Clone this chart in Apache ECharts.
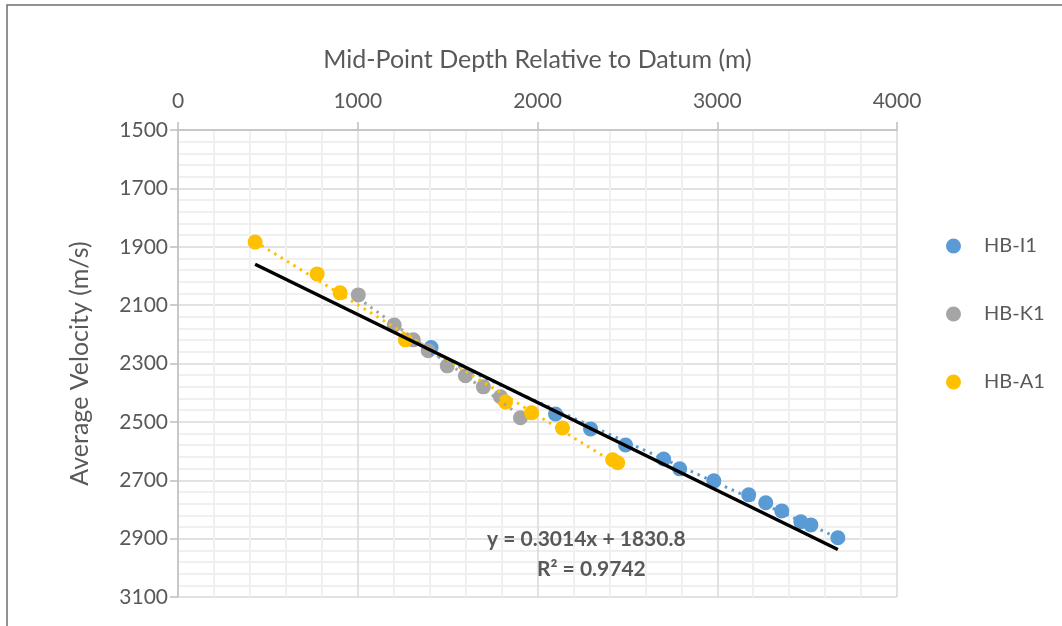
<!DOCTYPE html>
<html>
<head>
<meta charset="utf-8">
<script src="https://cdn.jsdelivr.net/npm/echarts@6/dist/echarts.min.js"></script>
<style>
  html, body { margin: 0; padding: 0; background: #fff; }
  #main { width: 1062px; height: 626px; }
</style>
</head>
<body>
<div id="main"></div>
<script>
// 数据：各井的中点深度 (m) 与平均速度 (m/s)
var seriesNames = ['HB-I1', 'HB-K1', 'HB-A1']
var i1Depth = [1408, 2100, 2295, 2490, 2702, 2791, 2981, 3175, 3270, 3359, 3465, 3521, 3671]
var i1Velocity = [2245, 2473, 2524, 2579, 2627, 2661, 2702, 2750, 2777, 2805, 2842, 2853, 2897]
var k1Depth = [1003, 1203, 1309, 1392, 1498, 1599, 1699, 1794, 1905]
var k1Velocity = [2065, 2168, 2219, 2256, 2308, 2342, 2380, 2414, 2486]
var a1Depth = [429, 774, 902, 1265, 1822, 1967, 2139, 2418, 2446]
var a1Velocity = [1884, 1993, 2058, 2219, 2432, 2469, 2521, 2630, 2640]
var xTicks = [0, 1000, 2000, 3000, 4000]
var yTicks = [1500, 1700, 1900, 2100, 2300, 2500, 2700, 2900, 3100]
// 总体趋势线 (图上给出的方程)
var fitSlope = 0.3014
var fitIntercept = 1830.8
var fitR2 = 0.9742

var colors = ['#5B9BD5', '#A5A5A5', '#FFC000']
var textColor = '#595959'
var font = 'Lato, "Open Sans", sans-serif'

function pairs(xs, ys) {
  return xs.map(function (x, i) { return [x, ys[i]] })
}
// 最小二乘线性趋势线，跨越该系列的深度范围
function trend(xs, ys) {
  var n = xs.length, sx = 0, sy = 0, sxx = 0, sxy = 0
  for (var i = 0; i < n; i++) {
    sx += xs[i]; sy += ys[i]; sxx += xs[i] * xs[i]; sxy += xs[i] * ys[i]
  }
  var b = (n * sxy - sx * sy) / (n * sxx - sx * sx)
  var a = (sy - b * sx) / n
  var x0 = Math.min.apply(null, xs), x1 = Math.max.apply(null, xs)
  return [[x0, a + b * x0], [x1, a + b * x1]]
}

var allDepth = i1Depth.concat(k1Depth, a1Depth)
var dMin = Math.min.apply(null, allDepth)
var dMax = Math.max.apply(null, allDepth)

var scatterData = [pairs(i1Depth, i1Velocity), pairs(k1Depth, k1Velocity), pairs(a1Depth, a1Velocity)]
var trendData = [trend(i1Depth, i1Velocity), trend(k1Depth, k1Velocity), trend(a1Depth, a1Velocity)]

var series = []
scatterData.forEach(function (d, i) {
  series.push({
    name: seriesNames[i],
    type: 'scatter',
    data: d,
    symbolSize: 15,
    itemStyle: { color: colors[i], opacity: 1 },
    z: 2 + i,
  })
})
trendData.forEach(function (d, i) {
  series.push({
    name: seriesNames[i] + ' trend',
    type: 'line',
    data: d,
    showSymbol: false,
    silent: true,
    lineStyle: { color: colors[i], width: 3, type: [2.5, 5] },
    z: 6,
  })
})
series.push({
  name: 'all trend',
  type: 'line',
  data: [[dMin, fitIntercept + fitSlope * dMin], [dMax, fitIntercept + fitSlope * dMax]],
  showSymbol: false,
  silent: true,
  lineStyle: { color: '#000', width: 3.5 },
  z: 8,
})

var myChart = echarts.init(document.getElementById('main'))
var option = {
  animation: false,
  backgroundColor: '#fff',
  textStyle: { fontFamily: font },
  grid: { left: 178, top: 130, right: 165, bottom: 29 },
  legend: {
    data: seriesNames,
    orient: 'vertical',
    left: 941,
    top: 231,
    icon: 'circle',
    itemWidth: 15,
    itemHeight: 15,
    itemGap: 48,
    textStyle: { color: textColor, fontSize: 20, fontFamily: font, padding: [0, 0, 0, 18] },
  },
  xAxis: {
    type: 'value',
    position: 'top',
    min: 0,
    max: 4000,
    interval: 1000,
    name: 'Mid-Point Depth Relative to Datum (m)',
    nameLocation: 'middle',
    nameGap: 58,
    nameTextStyle: { color: textColor, fontSize: 25, fontFamily: font },
    axisLine: { show: true, lineStyle: { color: '#BFBFBF', width: 1.5 } },
    axisTick: { show: true, length: 8, lineStyle: { color: '#BFBFBF', width: 1.5 } },
    axisLabel: {
      color: textColor, fontSize: 21, margin: 18,
      formatter: function (v) { return xTicks.indexOf(v) >= 0 ? String(v) : '' },
    },
    splitLine: { show: true, lineStyle: { color: '#D9D9D9', width: 1.5 } },
    minorTick: { show: false, splitNumber: 5 },
    minorSplitLine: { show: true, lineStyle: { color: '#F0F0F0', width: 2 } },
  },
  yAxis: {
    type: 'value',
    inverse: true,
    min: 1500,
    max: 3100,
    interval: 200,
    name: 'Average Velocity (m/s)',
    nameLocation: 'middle',
    nameGap: 86,
    nameRotate: 90,
    nameTextStyle: { color: textColor, fontSize: 25, fontFamily: font },
    axisLine: { show: true, lineStyle: { color: '#BFBFBF', width: 1.5 } },
    axisTick: { show: true, length: 8, lineStyle: { color: '#BFBFBF', width: 1.5 } },
    axisLabel: {
      color: textColor, fontSize: 21, margin: 10,
      formatter: function (v) { return yTicks.indexOf(v) >= 0 ? String(v) : '' },
    },
    splitLine: { show: true, lineStyle: { color: '#D9D9D9', width: 1.5 } },
    minorTick: { show: false, splitNumber: 5 },
    minorSplitLine: { show: true, lineStyle: { color: '#F0F0F0', width: 2 } },
  },
  graphic: [
    {
      type: 'rect',
      shape: { x: 7, y: 5, width: 1100, height: 700 },
      style: { fill: 'none', stroke: '#6E6E6E', lineWidth: 1.5 },
      silent: true,
    },
    {
      type: 'text',
      left: 487,
      top: 529,
      z: 20,
      style: {
        text: 'y = ' + fitSlope + 'x + ' + fitIntercept,
        fill: textColor,
        font: 'bold 21px ' + font,
      },
    },
    {
      type: 'text',
      left: 537,
      top: 559,
      z: 20,
      style: {
        text: 'R² = ' + fitR2,
        fill: textColor,
        font: 'bold 21px ' + font,
      },
    },
  ],
  series: series,
}
myChart.setOption(option)
</script>
</body>
</html>
